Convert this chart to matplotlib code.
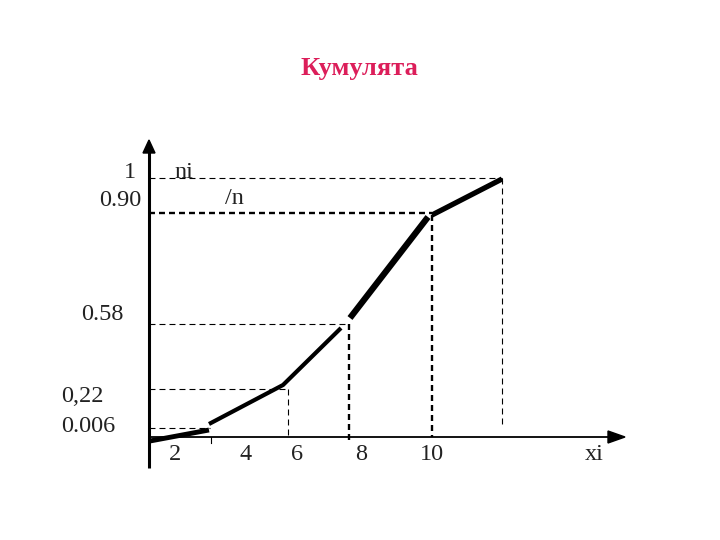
import matplotlib
matplotlib.use("Agg")
import matplotlib.pyplot as plt
from matplotlib.patches import Polygon

plt.rcParams['lines.scale_dashes'] = False

# Drawing frame: figure pixels (x to the right, y downward)
AXIS_X = 149          # vertical axis position
AXIS_Y = 437          # horizontal axis position

# Cumulative curve pieces (as drawn, slightly broken at the joints)
piece_x = [[150, 209], [209, 283, 341], [350, 428], [432, 502]]
piece_y = [[441, 430], [424, 385, 328], [318, 217], [215, 179]]
piece_w = [3.5, 3.0, 4.5, 3.8]

# Horizontal guide (dashed) lines: level y and right end
h_y = [178, 213, 324, 389, 428]
h_x_end = [502, 432, 349, 288, 210]
h_w = [0.8, 1.7, 0.8, 0.8, 0.8]

# Vertical guide (dashed) lines
v_x = [502, 432, 349, 288]
v_top = [178, 215, 324, 389]
v_bottom = [428, 437, 442, 437]
v_w = [0.8, 1.7, 1.7, 0.8]

# Y-axis labels
y_labels = ["1", "0.90", "0.58", "0,22", "0.006"]
y_lab_x = [130, 120, 102, 82, 88]
y_lab_y = [172, 200, 314, 397, 427]

# X-axis tick labels
x_labels = ["2", "4", "6", "8", "10", "xi"]
x_lab_x = [175, 246, 297, 361, 432, 594]
x_lab_y = 454

fig = plt.figure(figsize=(7.2, 5.4), dpi=100)
ax = fig.add_axes([0, 0, 1, 1])
ax.set_xlim(0, 720)
ax.set_ylim(540, 0)
ax.axis('off')

dash = (0, (4.3, 2.9))

for y, xe, w in zip(h_y, h_x_end, h_w):
    ax.plot([AXIS_X, xe], [y, y], color='black', lw=w, linestyle=dash, solid_capstyle='butt')
for x, t, b, w in zip(v_x, v_top, v_bottom, v_w):
    ax.plot([x, x], [t, b], color='black', lw=w, linestyle=dash)

# small tick at the first break
ax.plot([211, 211], [437, 443], color='black', lw=0.8)

# axes
ax.plot([AXIS_X, AXIS_X], [468, 152], color='black', lw=2.2, solid_capstyle='butt')
ax.add_patch(Polygon([[AXIS_X - 6, 153], [AXIS_X + 6, 153], [AXIS_X, 140]], closed=True,
                     color='black'))
ax.plot([AXIS_X, 609], [AXIS_Y, AXIS_Y], color='black', lw=1.3, solid_capstyle='butt')
ax.add_patch(Polygon([[608, AXIS_Y - 6], [608, AXIS_Y + 6], [625, AXIS_Y]], closed=True,
                     color='black'))

# curve
for xs, ys, w in zip(piece_x, piece_y, piece_w):
    ax.plot(xs, ys, color='black', lw=w, solid_capstyle='butt', solid_joinstyle='miter')

lab_font = dict(family='Liberation Serif', fontsize=17.5, color='#222222')
for s, x, y in zip(y_labels, y_lab_x, y_lab_y):
    ax.text(x, y, s, ha='center', va='center', **lab_font)
for s, x in zip(x_labels, x_lab_x):
    ax.text(x, x_lab_y, s, ha='center', va='center', **lab_font)

ax.text(184, 172, "ni", ha='center', va='center', **lab_font)
ax.text(234, 198, "/n", ha='center', va='center', **lab_font)

ax.text(359, 69, "Кумулята", ha='center', va='center', family='Liberation Serif',
        fontweight='bold', fontsize=19, color='#DC1E5A')

fig.savefig("out.png", dpi=100)
